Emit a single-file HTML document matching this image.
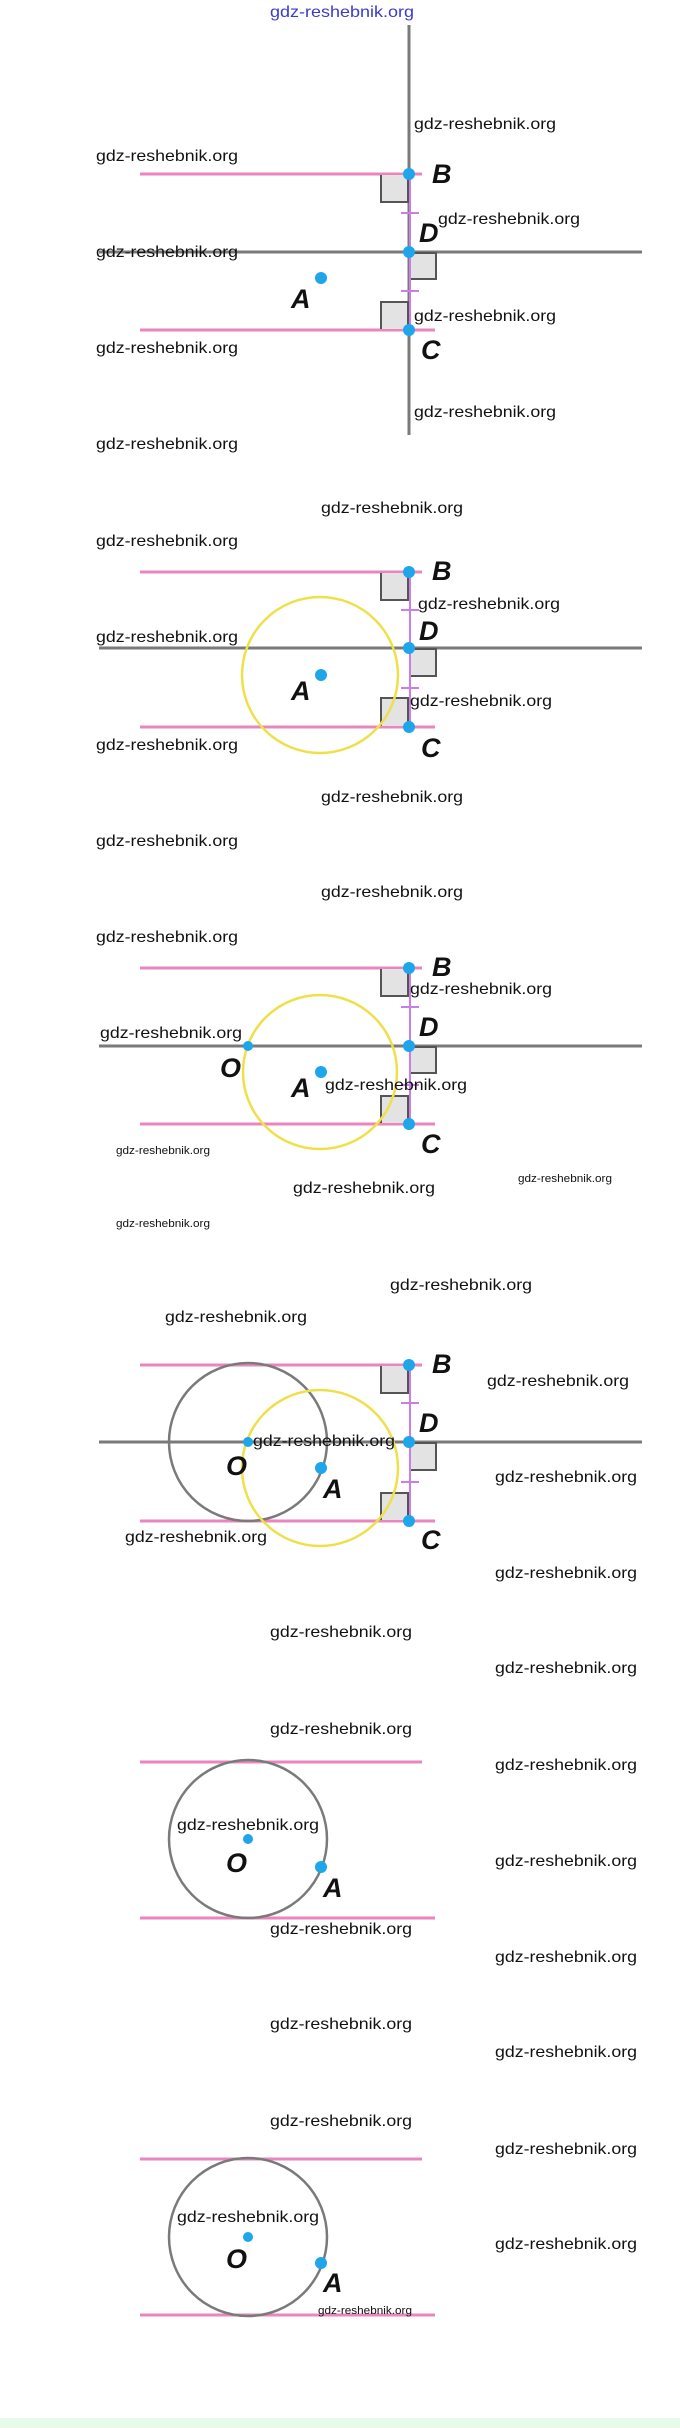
<!DOCTYPE html>
<html><head><meta charset="utf-8"><style>
html,body{margin:0;padding:0;background:#fff;}
svg{display:block;}
.w{font-family:"Liberation Sans",sans-serif;font-size:16px;fill:#111;}
.s{font-family:"Liberation Sans",sans-serif;font-size:11px;fill:#111;}
.L{font-family:"Liberation Sans Narrow","Liberation Sans",sans-serif;font-style:italic;font-weight:bold;font-size:27px;fill:#111;}
.g{stroke:#7a7a7a;stroke-width:3;fill:none;}
.p{stroke:#ea85bd;stroke-width:3;}
.v{stroke:#c880e8;stroke-width:2;}
.q{fill:#e3e3e3;stroke:#555;stroke-width:2;}
.d{fill:#1ea5ea;}
.y{stroke:#efe04a;stroke-width:2.5;fill:none;}
</style></head><body>
<svg width="680" height="2428" viewBox="0 0 680 2428" xmlns="http://www.w3.org/2000/svg">
<rect x="0" y="2418" width="680" height="10" fill="#e6fbe9"/>
<text x="270" y="17" font-family="Liberation Sans,sans-serif" font-size="16" fill="#3a3acc" textLength="144" lengthAdjust="spacingAndGlyphs">gdz-reshebnik.org</text>

<!-- Panel 1 -->
<line class="g" x1="409" y1="25" x2="409" y2="435"/>
<line class="g" x1="99" y1="252" x2="642" y2="252"/>
<line class="p" x1="140" y1="174" x2="422" y2="174"/>
<line class="p" x1="140" y1="330" x2="435" y2="330"/>
<path class="q" d="M408 175 V202 H381 V175"/>
<path class="q" d="M411 253 H436 V279 H411"/>
<path class="q" d="M408 329 V302 H381 V329"/>
<line class="v" x1="410" y1="174" x2="410" y2="330"/>
<line class="v" x1="401" y1="213" x2="419" y2="213"/><line class="v" x1="401" y1="291" x2="419" y2="291"/>
<circle class="d" cx="409" cy="174" r="6"/><circle class="d" cx="409" cy="252" r="6"/><circle class="d" cx="409" cy="330" r="6"/><circle class="d" cx="321" cy="278" r="6"/>
<text class="L" x="432" y="183">B</text><text class="L" x="419" y="242">D</text><text class="L" x="421" y="359">C</text><text class="L" x="291" y="308">A</text>
<text class="w" x="414" y="129" textLength="142" lengthAdjust="spacingAndGlyphs">gdz-reshebnik.org</text>
<text class="w" x="96" y="161" textLength="142" lengthAdjust="spacingAndGlyphs">gdz-reshebnik.org</text>
<text class="w" x="438" y="224" textLength="142" lengthAdjust="spacingAndGlyphs">gdz-reshebnik.org</text>
<text class="w" x="96" y="257" textLength="142" lengthAdjust="spacingAndGlyphs">gdz-reshebnik.org</text>
<text class="w" x="414" y="321" textLength="142" lengthAdjust="spacingAndGlyphs">gdz-reshebnik.org</text>
<text class="w" x="96" y="353" textLength="142" lengthAdjust="spacingAndGlyphs">gdz-reshebnik.org</text>
<text class="w" x="414" y="417" textLength="142" lengthAdjust="spacingAndGlyphs">gdz-reshebnik.org</text>
<text class="w" x="96" y="449" textLength="142" lengthAdjust="spacingAndGlyphs">gdz-reshebnik.org</text>

<!-- Panel 2 -->
<line class="g" x1="99" y1="648" x2="642" y2="648"/>
<line class="p" x1="140" y1="572" x2="422" y2="572"/>
<line class="p" x1="140" y1="727" x2="435" y2="727"/>
<path class="q" d="M408 573 V600 H381 V573"/>
<path class="q" d="M411 649 H436 V676 H411"/>
<path class="q" d="M408 726 V698 H381 V726"/>
<circle class="y" cx="320" cy="675" r="78"/>
<line class="v" x1="410" y1="572" x2="410" y2="727"/>
<line class="v" x1="401" y1="610" x2="419" y2="610"/><line class="v" x1="401" y1="688" x2="419" y2="688"/>
<circle class="d" cx="409" cy="572" r="6"/><circle class="d" cx="409" cy="648" r="6"/><circle class="d" cx="409" cy="727" r="6"/><circle class="d" cx="321" cy="675" r="6"/>
<text class="L" x="432" y="580">B</text><text class="L" x="419" y="640">D</text><text class="L" x="421" y="757">C</text><text class="L" x="291" y="700">A</text>
<text class="w" x="321" y="513" textLength="142" lengthAdjust="spacingAndGlyphs">gdz-reshebnik.org</text>
<text class="w" x="96" y="546" textLength="142" lengthAdjust="spacingAndGlyphs">gdz-reshebnik.org</text>
<text class="w" x="418" y="609" textLength="142" lengthAdjust="spacingAndGlyphs">gdz-reshebnik.org</text>
<text class="w" x="96" y="642" textLength="142" lengthAdjust="spacingAndGlyphs">gdz-reshebnik.org</text>
<text class="w" x="410" y="706" textLength="142" lengthAdjust="spacingAndGlyphs">gdz-reshebnik.org</text>
<text class="w" x="96" y="750" textLength="142" lengthAdjust="spacingAndGlyphs">gdz-reshebnik.org</text>
<text class="w" x="321" y="802" textLength="142" lengthAdjust="spacingAndGlyphs">gdz-reshebnik.org</text>
<text class="w" x="96" y="846" textLength="142" lengthAdjust="spacingAndGlyphs">gdz-reshebnik.org</text>
<text class="w" x="321" y="897" textLength="142" lengthAdjust="spacingAndGlyphs">gdz-reshebnik.org</text>

<!-- Panel 3 -->
<line class="g" x1="99" y1="1046" x2="642" y2="1046"/>
<line class="p" x1="140" y1="968" x2="422" y2="968"/>
<line class="p" x1="140" y1="1124" x2="435" y2="1124"/>
<path class="q" d="M408 969 V996 H381 V969"/>
<path class="q" d="M411 1047 H436 V1073 H411"/>
<path class="q" d="M408 1123 V1096 H381 V1123"/>
<circle class="y" cx="320" cy="1072" r="77"/>
<line class="v" x1="410" y1="968" x2="410" y2="1124"/>
<line class="v" x1="401" y1="1007" x2="419" y2="1007"/><line class="v" x1="401" y1="1085" x2="419" y2="1085"/>
<circle class="d" cx="409" cy="968" r="6"/><circle class="d" cx="409" cy="1046" r="6"/><circle class="d" cx="409" cy="1124" r="6"/><circle class="d" cx="321" cy="1072" r="6"/><circle class="d" cx="248" cy="1046" r="5"/>
<text class="L" x="432" y="976">B</text><text class="L" x="419" y="1036">D</text><text class="L" x="421" y="1153">C</text><text class="L" x="291" y="1097">A</text><text class="L" x="220" y="1077">O</text>
<text class="w" x="96" y="942" textLength="142" lengthAdjust="spacingAndGlyphs">gdz-reshebnik.org</text>
<text class="w" x="410" y="994" textLength="142" lengthAdjust="spacingAndGlyphs">gdz-reshebnik.org</text>
<text class="w" x="100" y="1038" textLength="142" lengthAdjust="spacingAndGlyphs">gdz-reshebnik.org</text>
<text class="w" x="325" y="1090" textLength="142" lengthAdjust="spacingAndGlyphs">gdz-reshebnik.org</text>
<text class="s" x="116" y="1154" textLength="94" lengthAdjust="spacingAndGlyphs">gdz-reshebnik.org</text>
<text class="w" x="293" y="1193" textLength="142" lengthAdjust="spacingAndGlyphs">gdz-reshebnik.org</text>
<text class="s" x="518" y="1182" textLength="94" lengthAdjust="spacingAndGlyphs">gdz-reshebnik.org</text>
<text class="s" x="116" y="1227" textLength="94" lengthAdjust="spacingAndGlyphs">gdz-reshebnik.org</text>
<text class="w" x="390" y="1290" textLength="142" lengthAdjust="spacingAndGlyphs">gdz-reshebnik.org</text>

<!-- Panel 4 -->
<line class="g" x1="99" y1="1442" x2="642" y2="1442"/>
<line class="p" x1="140" y1="1365" x2="422" y2="1365"/>
<line class="p" x1="140" y1="1521" x2="435" y2="1521"/>
<path class="q" d="M408 1366 V1393 H381 V1366"/>
<path class="q" d="M411 1443 H436 V1470 H411"/>
<path class="q" d="M408 1520 V1493 H381 V1520"/>
<circle class="g" cx="248" cy="1442" r="79" style="stroke-width:2.5"/>
<circle class="y" cx="320" cy="1468" r="78"/>
<line class="v" x1="410" y1="1365" x2="410" y2="1521"/>
<line class="v" x1="401" y1="1403" x2="419" y2="1403"/><line class="v" x1="401" y1="1482" x2="419" y2="1482"/>
<circle class="d" cx="409" cy="1365" r="6"/><circle class="d" cx="409" cy="1442" r="6"/><circle class="d" cx="409" cy="1521" r="6"/><circle class="d" cx="321" cy="1468" r="6"/><circle class="d" cx="248" cy="1442" r="5"/>
<text class="L" x="432" y="1373">B</text><text class="L" x="419" y="1432">D</text><text class="L" x="421" y="1549">C</text><text class="L" x="323" y="1498">A</text><text class="L" x="226" y="1475">O</text>
<text class="w" x="165" y="1322" textLength="142" lengthAdjust="spacingAndGlyphs">gdz-reshebnik.org</text>
<text class="w" x="487" y="1386" textLength="142" lengthAdjust="spacingAndGlyphs">gdz-reshebnik.org</text>
<text class="w" x="253" y="1446" textLength="142" lengthAdjust="spacingAndGlyphs">gdz-reshebnik.org</text>
<text class="w" x="495" y="1482" textLength="142" lengthAdjust="spacingAndGlyphs">gdz-reshebnik.org</text>
<text class="w" x="125" y="1542" textLength="142" lengthAdjust="spacingAndGlyphs">gdz-reshebnik.org</text>
<text class="w" x="495" y="1578" textLength="142" lengthAdjust="spacingAndGlyphs">gdz-reshebnik.org</text>
<text class="w" x="270" y="1637" textLength="142" lengthAdjust="spacingAndGlyphs">gdz-reshebnik.org</text>

<!-- Panel 5 -->
<line class="p" x1="140" y1="1762" x2="422" y2="1762"/>
<line class="p" x1="140" y1="1918" x2="435" y2="1918"/>
<circle class="g" cx="248" cy="1839" r="79" style="stroke-width:2.5"/>
<circle class="d" cx="248" cy="1839" r="5"/><circle class="d" cx="321" cy="1867" r="6"/>
<text class="L" x="226" y="1872">O</text><text class="L" x="323" y="1897">A</text>
<text class="w" x="495" y="1673" textLength="142" lengthAdjust="spacingAndGlyphs">gdz-reshebnik.org</text>
<text class="w" x="270" y="1734" textLength="142" lengthAdjust="spacingAndGlyphs">gdz-reshebnik.org</text>
<text class="w" x="495" y="1770" textLength="142" lengthAdjust="spacingAndGlyphs">gdz-reshebnik.org</text>
<text class="w" x="177" y="1830" textLength="142" lengthAdjust="spacingAndGlyphs">gdz-reshebnik.org</text>
<text class="w" x="495" y="1866" textLength="142" lengthAdjust="spacingAndGlyphs">gdz-reshebnik.org</text>
<text class="w" x="270" y="1934" textLength="142" lengthAdjust="spacingAndGlyphs">gdz-reshebnik.org</text>
<text class="w" x="495" y="1962" textLength="142" lengthAdjust="spacingAndGlyphs">gdz-reshebnik.org</text>
<text class="w" x="270" y="2029" textLength="142" lengthAdjust="spacingAndGlyphs">gdz-reshebnik.org</text>
<text class="w" x="495" y="2057" textLength="142" lengthAdjust="spacingAndGlyphs">gdz-reshebnik.org</text>

<!-- Panel 6 -->
<line class="p" x1="140" y1="2159" x2="422" y2="2159"/>
<line class="p" x1="140" y1="2315" x2="435" y2="2315"/>
<circle class="g" cx="248" cy="2237" r="79" style="stroke-width:2.5"/>
<circle class="d" cx="248" cy="2237" r="5"/><circle class="d" cx="321" cy="2263" r="6"/>
<text class="L" x="226" y="2268">O</text><text class="L" x="323" y="2292">A</text>
<text class="w" x="270" y="2126" textLength="142" lengthAdjust="spacingAndGlyphs">gdz-reshebnik.org</text>
<text class="w" x="495" y="2154" textLength="142" lengthAdjust="spacingAndGlyphs">gdz-reshebnik.org</text>
<text class="w" x="177" y="2222" textLength="142" lengthAdjust="spacingAndGlyphs">gdz-reshebnik.org</text>
<text class="w" x="495" y="2249" textLength="142" lengthAdjust="spacingAndGlyphs">gdz-reshebnik.org</text>
<text class="s" x="318" y="2314" textLength="94" lengthAdjust="spacingAndGlyphs">gdz-reshebnik.org</text>
</svg>
</body></html>
